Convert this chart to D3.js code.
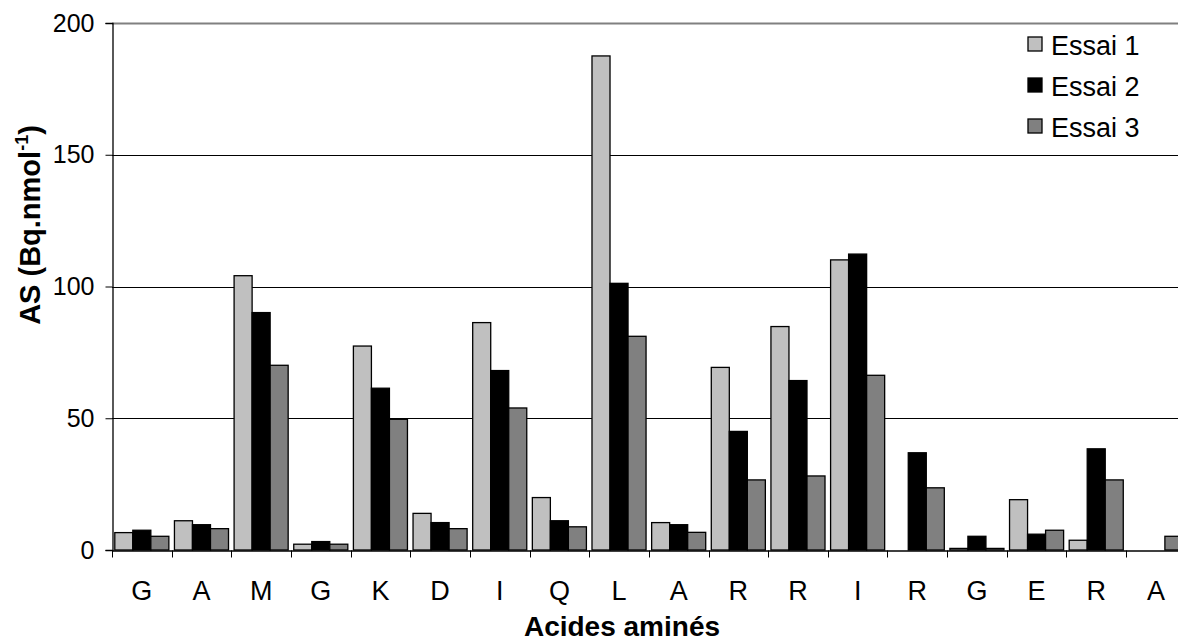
<!DOCTYPE html>
<html><head><meta charset="utf-8">
<script src="https://cdn.jsdelivr.net/npm/d3@7/dist/d3.min.js"></script>
<style>body{margin:0;background:#fff}svg{display:block;font-family:Arial,"Liberation Sans",sans-serif}</style>
</head><body><svg id="c" width="1178" height="643"></svg>
<script>
const categories = ["G","A","M","G","K","D","I","Q","L","A","R","R","I","R","G","E","R","A"];
const series = ["Essai 1","Essai 2","Essai 3"];
const essai1 = [6.6,11.1,104.1,2.2,77.4,13.9,86.3,19.9,187.5,10.4,69.3,84.8,110.1,0,0.6,19.1,3.7,0];
const essai2 = [7.5,9.6,90.1,3.2,61.4,10.4,68.1,11.1,101.2,9.6,45.0,64.3,112.3,36.9,5.2,6.0,38.4,0];
const essai3 = [5.2,8.1,70.1,2.2,49.6,8.1,53.9,8.8,81.1,6.7,26.6,28.1,66.3,23.6,0.6,7.5,26.6,5.2];
const yTicks = [0,50,100,150,200];
const colors = ["#c0c0c0","#000000","#808080"];

const FONT = "Arial, 'Liberation Sans', sans-serif";
const svg = d3.select("#c");
const pLeft = 112, pRight = 1185.7, pTop = 23, pBottom = 550;
const x = d3.scaleBand().domain(d3.range(categories.length)).range([pLeft, pRight]).paddingInner(0).paddingOuter(0);
const y = d3.scaleLinear().domain([0,200]).range([pBottom, pTop]);
const inner = d3.scaleBand().domain([0,1,2]).range([0, x.bandwidth()]).paddingInner(0).paddingOuter(0.155);

// gridlines
svg.append("g").selectAll("line").data(yTicks.filter(t=>t>0)).join("line")
  .attr("x1", pLeft).attr("x2", 1178)
  .attr("y1", d=>Math.round(y(d))+0.5).attr("y2", d=>Math.round(y(d))+0.5)
  .attr("stroke", d=>d===200?"#808080":"#000").attr("stroke-width", d=>d===200?2:1);

// bars
const data = [essai1, essai2, essai3];
const g = svg.append("g");
data.forEach((vals, si) => {
  g.selectAll(null).data(vals.map((v,i)=>({v,i})).filter(d=>d.v>0)).join("rect")
    .attr("x", d=>x(d.i)+inner(si))
    .attr("y", d=>y(d.v))
    .attr("width", inner.bandwidth())
    .attr("height", d=>pBottom - y(d.v))
    .attr("fill", colors[si]).attr("stroke", "#000").attr("stroke-width", 1.3);
});

// y axis
const ya = d3.axisLeft(y).tickValues(yTicks).tickSize(7).tickPadding(11);
const yg = svg.append("g").attr("transform", `translate(${pLeft+0.5},0)`).call(ya);
yg.select(".domain").attr("stroke","#000").attr("stroke-width",1.3);
yg.selectAll(".tick line").attr("stroke","#000");
yg.selectAll("text").attr("font-size", 25).attr("fill","#000").style("font-family",FONT);

// x axis
const xa = d3.axisBottom(x).tickFormat(i=>categories[i]).tickSize(0).tickPadding(30);
const xg = svg.append("g").attr("transform", `translate(0,${pBottom+0.5})`).call(xa);
xg.select(".domain").attr("stroke","#000").attr("stroke-width",1.3);
xg.selectAll("text").attr("font-size", 27).attr("fill","#000").style("font-family",FONT);
// category boundary ticks
xg.append("g").selectAll("line").data(d3.range(categories.length)).join("line")
  .attr("x1", i=>Math.round(x(i))+0.5).attr("x2", i=>Math.round(x(i))+0.5)
  .attr("y1", 0).attr("y2", 7).attr("stroke","#000");

// axis titles
const yt = svg.append("text").attr("transform","translate(40,225) rotate(-90)")
  .attr("text-anchor","middle").attr("font-size",29).attr("font-weight","bold");
yt.append("tspan").text("AS (Bq.nmol");
yt.append("tspan").text("-1").attr("font-size",18).attr("dy",-12);
yt.append("tspan").text(")").attr("dy",12);

svg.append("text").attr("x",622).attr("y",636).attr("text-anchor","middle")
  .attr("font-size",28).attr("font-weight","bold").text("Acides aminés");

// legend
const lg = svg.append("g").attr("transform","translate(1028,37)");
series.forEach((s,i)=>{
  lg.append("rect").attr("x",0).attr("y",i*41).attr("width",14).attr("height",14)
    .attr("fill",colors[i]).attr("stroke","#000").attr("stroke-width",1.3);
  lg.append("text").attr("x",23).attr("y",i*41+18).attr("font-size",27).text(s);
});
</script></body></html>
